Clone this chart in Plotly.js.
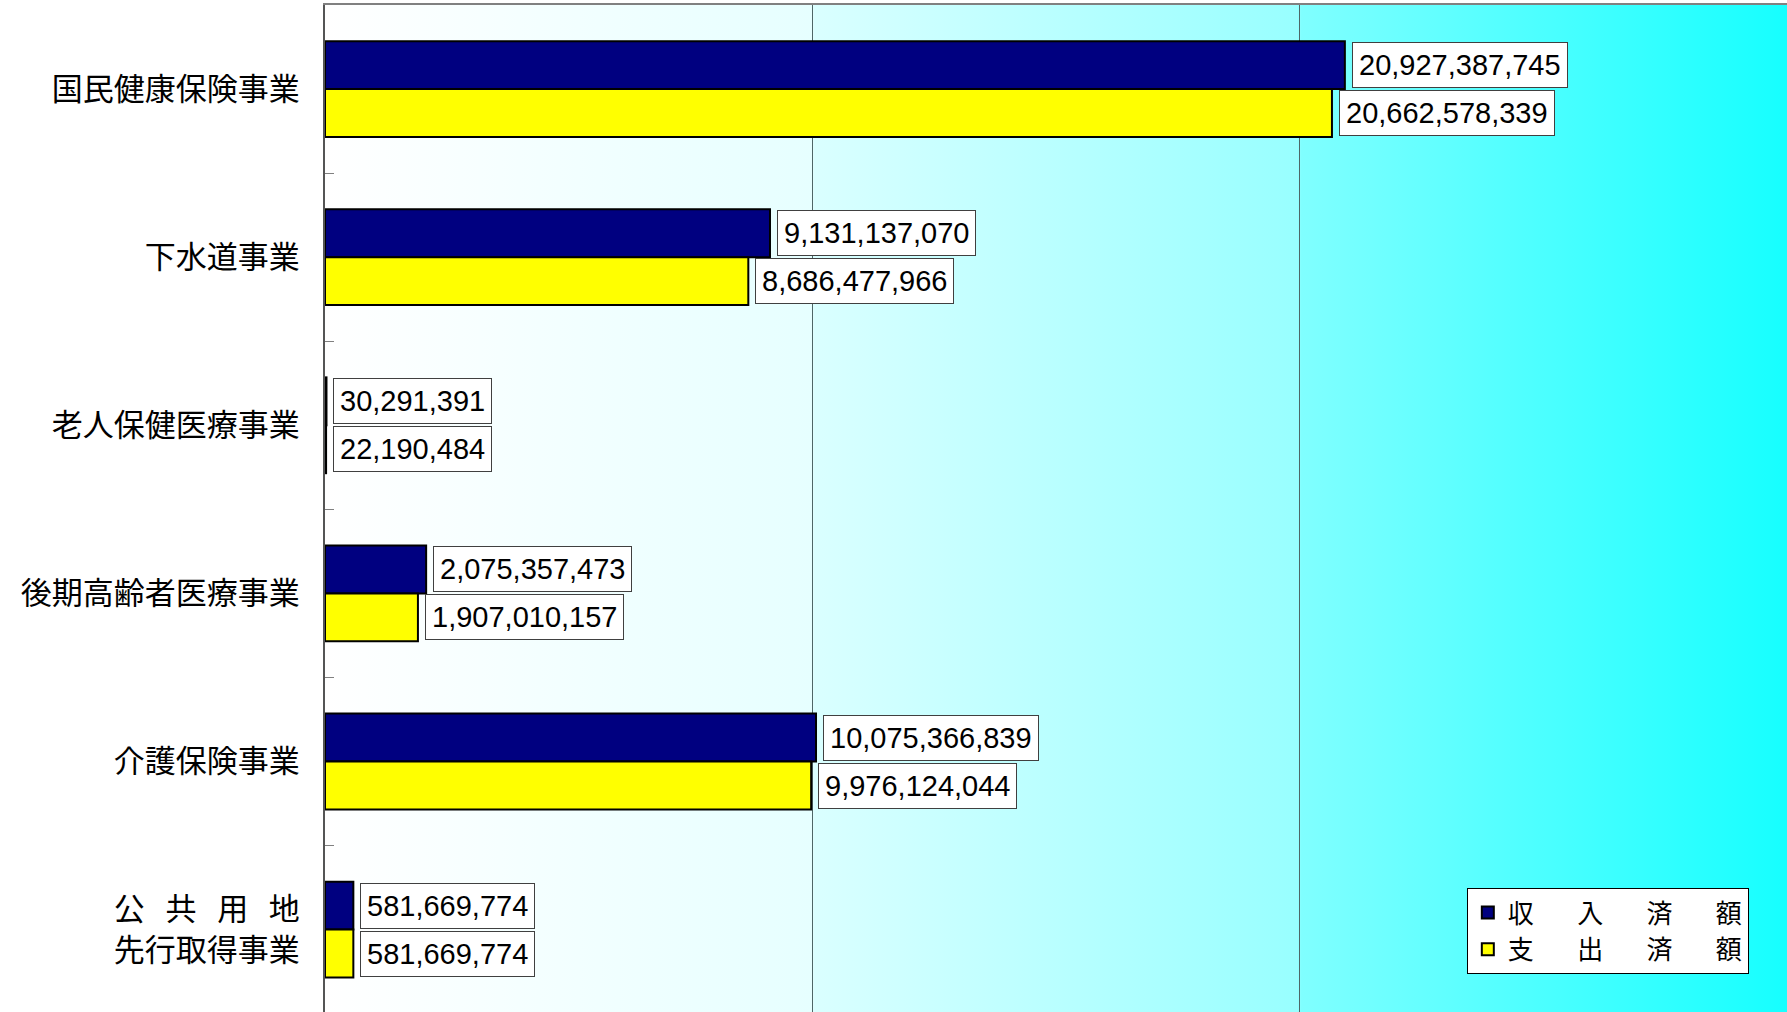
<!DOCTYPE html>
<html>
<head>
<meta charset="utf-8">
<script src="https://cdn.plot.ly/plotly-3.0.1.min.js"></script>
<style>
html,body{margin:0;padding:0;background:#fff;}
#chart{width:1787px;height:1012px;}
</style>
</head>
<body>
<div id="chart"></div>
<script>
const categories = [
  "国民健康保険事業",
  "下水道事業",
  "老人保健医療事業",
  "後期高齢者医療事業",
  "介護保険事業",
  "公\u2002\u2006共\u2002\u2006用\u2002\u2006地<br>先行取得事業"
];
const revenue = [20927387745, 9131137070, 30291391, 2075357473, 10075366839, 581669774];
const expenditure = [20662578339, 8686477966, 22190484, 1907010157, 9976124044, 581669774];
const seriesNames = [
  "収\u3000\u2002\u2006入\u3000\u2002\u2006済\u3000\u2002\u2006額",
  "支\u3000\u2002\u2006出\u3000\u2002\u2006済\u3000\u2002\u2006額"
];

const cjk = '"Noto Sans CJK JP", "Noto Sans CJK SC", sans-serif';
const num = '"Liberation Sans", Arial, sans-serif';

const fmt = v => v.toLocaleString('en-US');

const traces = [
  {
    type: 'bar', orientation: 'h', name: seriesNames[0],
    y: categories, x: revenue,
    marker: {color: '#000080', line: {color: '#000000', width: 2}},
    hoverinfo: 'skip'
  },
  {
    type: 'bar', orientation: 'h', name: seriesNames[1],
    y: categories, x: expenditure,
    marker: {color: '#FFFF00', line: {color: '#000000', width: 2}},
    hoverinfo: 'skip'
  }
];

const annotations = [];
[revenue, expenditure].forEach((arr, s) => {
  arr.forEach((v, i) => {
    annotations.push({
      x: v, y: categories[i], xref: 'x', yref: 'y',
      text: fmt(v), showarrow: false,
      xanchor: 'left', yanchor: 'middle',
      xshift: 7, yshift: s === 0 ? 24 : -24,
      bgcolor: '#FFFFFF', bordercolor: '#404040', borderwidth: 1, borderpad: 6,
      font: {family: num, size: 29, color: '#000000'}
    });
  });
});

const svg = "<svg xmlns='http://www.w3.org/2000/svg' width='200' height='10' preserveAspectRatio='none'>" +
  "<defs><linearGradient id='g' x1='0' x2='1' y1='0' y2='0'>" +
  "<stop offset='0' stop-color='#FFFFFF'/>" +
  "<stop offset='0.333' stop-color='#E6FFFF'/>" +
  "<stop offset='0.335' stop-color='#DAFFFF'/>" +
  "<stop offset='0.665' stop-color='#98FFFF'/>" +
  "<stop offset='0.668' stop-color='#80FFFF'/>" +
  "<stop offset='1' stop-color='#16FFFF'/>" +
  "</linearGradient></defs><rect width='200' height='10' fill='url(#g)'/></svg>";

const layout = {
  width: 1787, height: 1012,
  margin: {l: 325, r: 0, t: 5, b: 0, pad: 0},
  paper_bgcolor: '#FFFFFF',
  plot_bgcolor: 'rgba(0,0,0,0)',
  barmode: 'group',
  bargap: 0.43,
  bargroupgap: 0,
  showlegend: true,
  legend: {
    x: 0.781, xanchor: 'left', y: 0.123, yanchor: 'top',
    bgcolor: '#FFFFFF', bordercolor: '#000000', borderwidth: 1,
    font: {family: cjk, size: 26, color: '#000000'},
    traceorder: 'normal', tracegroupgap: 0,
    itemwidth: 30
  },
  xaxis: {
    range: [0, 30000000000],
    side: 'top',
    tick0: 0, dtick: 10000000000,
    showgrid: true, gridcolor: '#4E6666', gridwidth: 1,
    showticklabels: false, ticks: '',
    zeroline: false,
    showline: true, linecolor: '#808080', linewidth: 2
  },
  yaxis: {
    type: 'category',
    categoryorder: 'array', categoryarray: categories,
    range: [5.49, -0.5],
    showgrid: false, zeroline: false,
    showline: true, linecolor: '#555555', linewidth: 2,
    ticks: 'inside', ticklen: 9, tickcolor: '#808080', tickwidth: 1,
    tickson: 'boundaries',
    ticklabelstandoff: 17,
    tickfont: {family: cjk, size: 31, color: '#000000'}
  },
  annotations: annotations,
  images: [{
    source: 'data:image/svg+xml;charset=utf-8,' + encodeURIComponent(svg),
    xref: 'paper', yref: 'paper', x: 0, y: 1, sizex: 1, sizey: 1,
    xanchor: 'left', yanchor: 'top', sizing: 'stretch', layer: 'below'
  }]
};

Plotly.newPlot('chart', traces, layout, {displayModeBar: false, staticPlot: true});
</script>
</body>
</html>
